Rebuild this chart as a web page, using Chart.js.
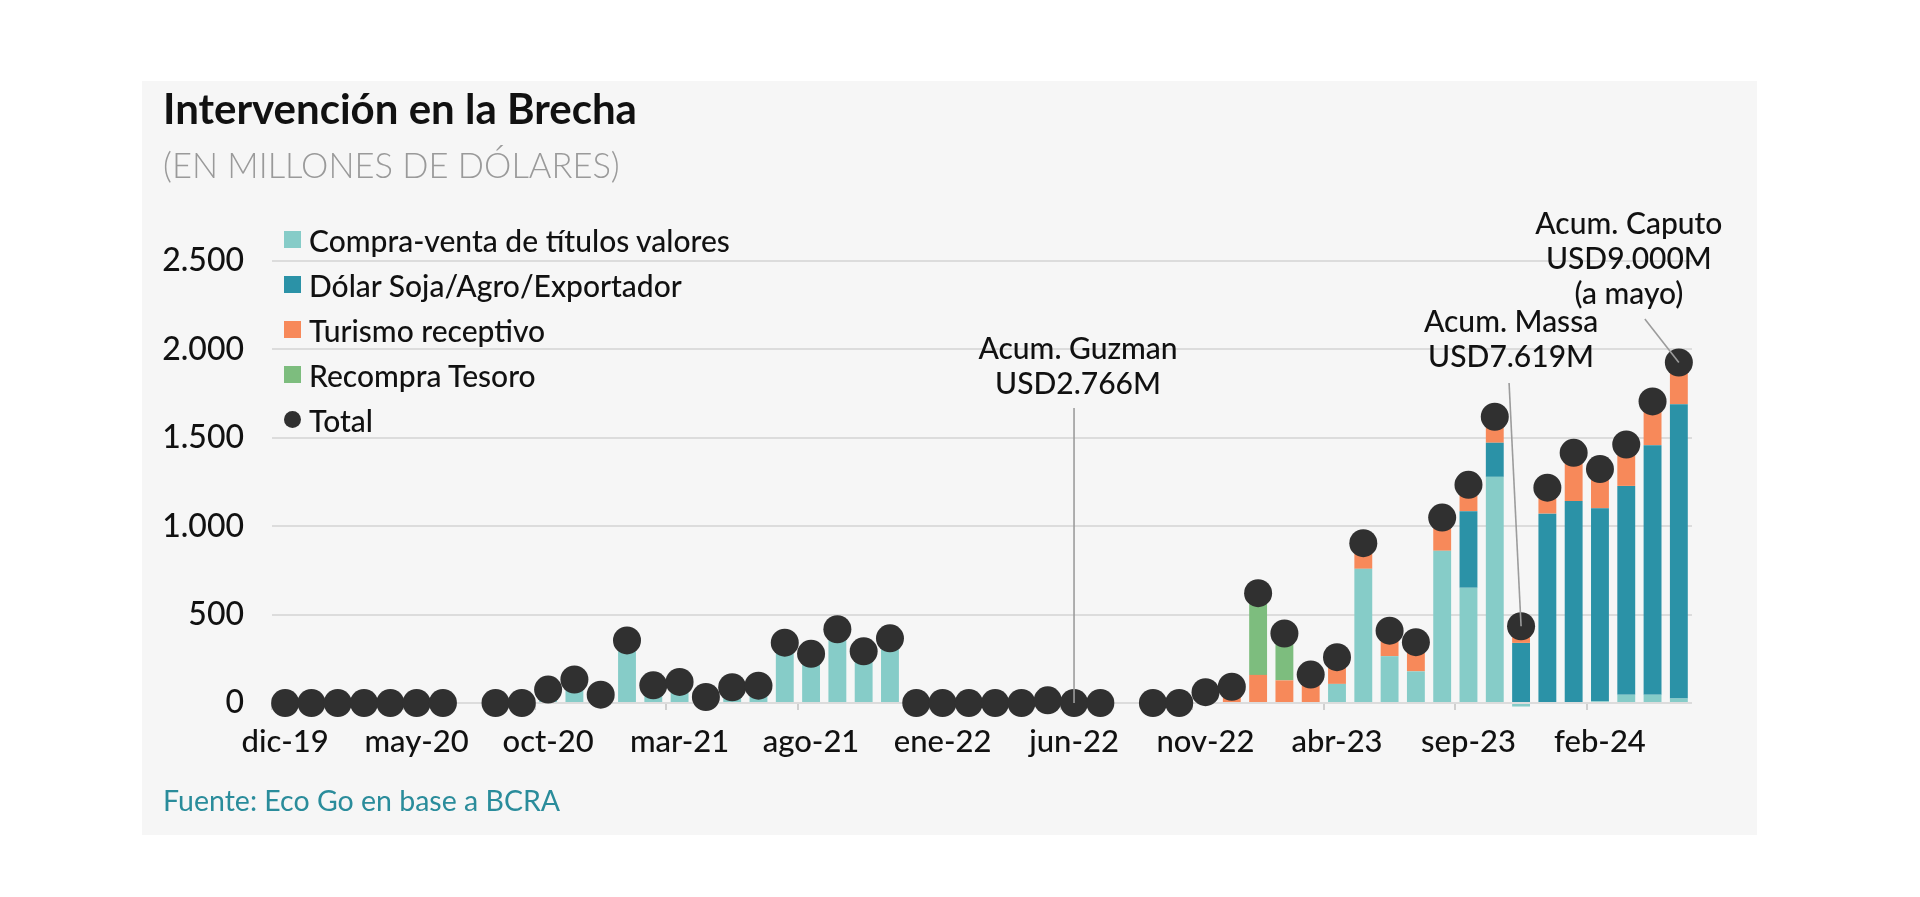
<!DOCTYPE html>
<html lang="es">
<head>
<meta charset="utf-8">
<title>Intervención en la Brecha</title>
<script src="https://cdn.jsdelivr.net/npm/chart.js@4.4.1/dist/chart.umd.min.js"></script>
<style>
  html, body { margin: 0; padding: 0; background: #fff; }
  body { width: 1920px; height: 897px; position: relative; overflow: hidden; font-family: Lato, 'Noto Sans', sans-serif; color: #111; }
  .card { position: absolute; left: 142px; top: 81px; width: 1615px; height: 754px; background: #f6f6f6; }
  #chart { position: absolute; left: 0; top: 0; }
  .title { position: absolute; left: 163px; top: 87px; font-size: 42px; line-height: 42px; font-weight: 700; white-space: nowrap; }
  .subtitle { position: absolute; left: 163px; top: 147px; font-size: 34.5px; line-height: 35px; font-weight: 300; color: #9a9a9a; white-space: nowrap; }
  .source { position: absolute; left: 163px; top: 786px; font-size: 28.5px; line-height: 29px; color: #2a8c9b; white-space: nowrap; }
  #legend { position: absolute; left: 284px; top: 217px; }
  #legend .row { height: 45px; display: flex; align-items: center; font-size: 30px; font-weight: 500; white-space: nowrap; }
  #legend .mk { width: 17px; height: 17px; margin-right: 8px; }
  #legend .mk.dot { border-radius: 50%; }
</style>
</head>
<body>
<div class="card"></div>
<canvas id="chart" width="1920" height="897"></canvas>
<div class="title">Intervención en la Brecha</div>
<div class="subtitle">(EN MILLONES DE DÓLARES)</div>
<div id="legend"></div>
<div class="source">Fuente: Eco Go en base a BCRA</div>
<script>
(function () {
  'use strict';

  const months = [
    'dic-19',
    'ene-20', 'feb-20', 'mar-20', 'abr-20', 'may-20', 'jun-20', 'jul-20', 'ago-20', 'sep-20', 'oct-20', 'nov-20', 'dic-20',
    'ene-21', 'feb-21', 'mar-21', 'abr-21', 'may-21', 'jun-21', 'jul-21', 'ago-21', 'sep-21', 'oct-21', 'nov-21', 'dic-21',
    'ene-22', 'feb-22', 'mar-22', 'abr-22', 'may-22', 'jun-22', 'jul-22', 'ago-22', 'sep-22', 'oct-22', 'nov-22', 'dic-22',
    'ene-23', 'feb-23', 'mar-23', 'abr-23', 'may-23', 'jun-23', 'jul-23', 'ago-23', 'sep-23', 'oct-23', 'nov-23', 'dic-23',
    'ene-24', 'feb-24', 'mar-24', 'abr-24', 'may-24'
  ];

  // millones de USD
  const compraVenta = [
    0, 0, 0, 0, 0, 0, 0, null, 0, 0,
    76, 133, 47, 354, 100, 119, 34, 89, 98, 341,
    278, 417, 292, 366, 0, 0, 0, 0, 0, 15,
    0, 0, null, 0, 0, 0, 0, 0, 0, 0,
    108, 759, 265, 179, 861, 652, 1279, -20, 0, 0,
    10, 47, 47, 26
  ];
  const dolarSoja = [
    0, 0, 0, 0, 0, 0, 0, null, 0, 0,
    0, 0, 0, 0, 0, 0, 0, 0, 0, 0,
    0, 0, 0, 0, 0, 0, 0, 0, 0, 0,
    0, 0, null, 0, 0, 0, 0, 0, 0, 0,
    0, 0, 0, 0, 0, 433, 193, 340, 1071, 1142,
    1091, 1181, 1411, 1664
  ];
  const turismo = [
    0, 0, 0, 0, 0, 0, 0, null, 0, 0,
    0, 0, 0, 0, 0, 0, 0, 0, 0, 0,
    0, 0, 0, 0, 0, 0, 0, 0, 0, 0,
    0, 0, null, 0, 0, 61, 92, 159, 128, 161,
    151, 145, 144, 165, 188, 149, 147, 94, 147, 273,
    222, 234, 248, 236
  ];
  const recompra = [
    0, 0, 0, 0, 0, 0, 0, null, 0, 0,
    0, 0, 0, 0, 0, 0, 0, 0, 0, 0,
    0, 0, 0, 0, 0, 0, 0, 0, 0, 0,
    0, 0, null, 0, 0, 0, 0, 462, 265, 0,
    0, 0, 0, 0, 0, 0, 0, 0, 0, 0,
    0, 0, 0, 0
  ];
  const total = [
    0, 0, 0, 0, 0, 0, 0, null, 0, 0,
    76, 133, 47, 354, 100, 119, 34, 89, 98, 341,
    278, 417, 292, 366, 0, 0, 0, 0, 0, 15,
    0, 0, null, 0, 0, 61, 92, 621, 393, 161,
    259, 904, 409, 344, 1049, 1234, 1619, 434, 1218, 1415,
    1323, 1462, 1706, 1926
  ];
  const yTicks = [0, 500, 1000, 1500, 2000, 2500];

  const notes = [
    { index: 30, lines: ['Acum. Guzman', 'USD2.766M'], at: 2000, dx: 4, from: 1668, lx: 0 },
    { index: 47, lines: ['Acum. Massa', 'USD7.619M'], at: 2155, dx: -10, from: 1810, lx: -12 },
    { index: 53, lines: ['Acum. Caputo', 'USD9.000M', '(a mayo)'], at: 2709, dx: -50, from: 2172, lx: -34 }
  ];

  const FONT = 'Lato';
  const fmt = (v) => String(v).replace(/\B(?=(\d{3})+(?!\d))/g, '.');

  Chart.defaults.font.family = FONT;
  Chart.defaults.font.weight = 500;
  Chart.defaults.color = '#111';

  const notesPlugin = {
    id: 'notes',
    afterDatasetsDraw(chart) {
      const ctx = chart.ctx;
      const y = chart.scales.y;
      const pts = chart.getDatasetMeta(0).data;
      ctx.save();
      ctx.font = '500 30px ' + FONT;
      ctx.fillStyle = '#111';
      ctx.textAlign = 'center';
      ctx.textBaseline = 'middle';
      notes.forEach((n) => {
        const p = pts[n.index];
        const ty = y.getPixelForValue(n.at);
        n.lines.forEach((s, k) => ctx.fillText(s, p.x + n.dx, ty + k * 35));
        ctx.strokeStyle = '#9c9c9c';
        ctx.lineWidth = 1.6;
        ctx.beginPath();
        ctx.moveTo(p.x + n.lx, y.getPixelForValue(n.from));
        ctx.lineTo(p.x, p.y);
        ctx.stroke();
      });
      ctx.restore();
    }
  };

  const chart = new Chart(document.getElementById('chart'), {
    type: 'bar',
    data: {
      labels: months,
      datasets: [
        {
          type: 'line', label: 'Total', data: total, showLine: false, stack: 'total',
          pointRadius: 14, pointHoverRadius: 14, pointBackgroundColor: '#303030', pointBorderWidth: 0,
          clip: false
        },
        { label: 'Compra-venta de títulos valores', data: compraVenta, backgroundColor: '#86ccc8', stack: 'brecha', clip: false },
        { label: 'Dólar Soja/Agro/Exportador', data: dolarSoja, backgroundColor: '#2b92a7', stack: 'brecha', clip: false },
        { label: 'Turismo receptivo', data: turismo, backgroundColor: '#f7895a', stack: 'brecha', clip: false },
        { label: 'Recompra Tesoro', data: recompra, backgroundColor: '#7dbd7e', stack: 'brecha', clip: false }
      ]
    },
    options: {
      responsive: false,
      animation: false,
      events: [],
      layout: { padding: { left: 142, right: 228, top: 261, bottom: 114 } },
      datasets: { bar: { barPercentage: 0.68, categoryPercentage: 1 } },
      plugins: { legend: { display: false }, tooltip: { enabled: false } },
      scales: {
        x: {
          stacked: true,
          border: { display: false },
          grid: {
            offset: true, drawOnChartArea: false, tickLength: 7, lineWidth: 2,
            color: (c) => (c.index % 5 === 0 ? '#cfcfcf' : 'rgba(0,0,0,0)')
          },
          ticks: {
            autoSkip: false, maxRotation: 0, minRotation: 0, padding: 13,
            font: { size: 31 },
            callback: (v, i) => (i % 5 === 0 ? months[i] : '')
          },
          afterFit: (s) => { s.height = 80; }
        },
        y: {
          stacked: true,
          min: yTicks[0],
          max: yTicks[yTicks.length - 1],
          border: { display: false },
          grid: { color: '#dcdcdc', lineWidth: 2, drawTicks: false },
          ticks: { stepSize: 500, padding: 28, font: { size: 32 }, callback: (v) => fmt(v) },
          afterBuildTicks: (s) => { s.ticks = yTicks.map((v) => ({ value: v })); },
          afterFit: (s) => { s.width = 130; }
        }
      }
    },
    plugins: [notesPlugin]
  });

  // leyenda vertical, arriba a la izquierda del area del grafico
  const legend = document.getElementById('legend');
  const order = [1, 2, 3, 4, 0];
  order.forEach((i) => {
    const ds = chart.data.datasets[i];
    const row = document.createElement('div');
    row.className = 'row';
    const mk = document.createElement('span');
    mk.className = ds.type === 'line' ? 'mk dot' : 'mk';
    mk.style.background = ds.type === 'line' ? ds.pointBackgroundColor : ds.backgroundColor;
    const tx = document.createElement('span');
    tx.textContent = ds.label;
    row.appendChild(mk);
    row.appendChild(tx);
    legend.appendChild(row);
  });
})();
</script>
</body>
</html>
